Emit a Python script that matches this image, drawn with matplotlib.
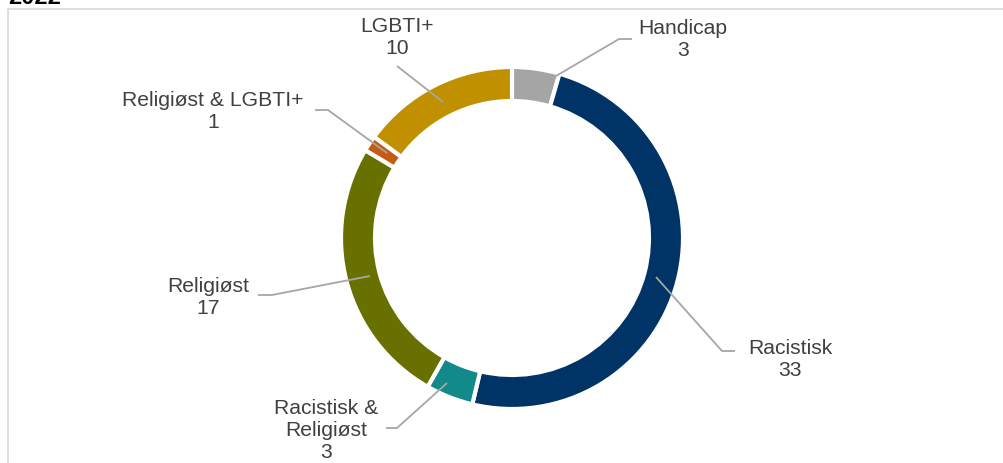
import matplotlib
matplotlib.use("Agg")
import matplotlib.pyplot as plt
from matplotlib.patches import Rectangle

categories = ["Handicap", "Racistisk", "Racistisk &\nReligiøst", "Religiøst",
              "Religiøst & LGBTI+", "LGBTI+"]
values = [3, 33, 3, 17, 1, 10]
colors = ["#A5A5A5", "#003366", "#138A8A", "#687000", "#C55A11", "#C09000"]

W, H = 1004, 464
fig = plt.figure(figsize=(W / 100, H / 100), dpi=100)
ax = fig.add_axes([0, 0, 1, 1])

def py(y):
    return H - y

cx, cy, R = 512, py(239), 171
ax.pie(values, colors=colors, startangle=90, counterclock=False, center=(cx, cy),
       radius=R, wedgeprops=dict(width=34, edgecolor="white", linewidth=3),
       frame=True)
ax.set_xlim(0, W)
ax.set_ylim(0, H)
ax.set_aspect("auto")
ax.axis("off")

# frame
ax.add_patch(Rectangle((8, py(470)), 1010, 460, fill=False, edgecolor="#D9D9D9", lw=1.2))
ax.text(8, py(-3), "2022", fontsize=17, fontweight="bold", ha="left", va="center",
        family="Liberation Sans", color="black")

# label layout: text center (px), leader polyline (px)
text_pos = [(683, 40), (790, 360), (326, 431), (208, 297), (213, 112), (397, 38)]
leaders = [
    [(632, 40), (619, 40), (556, 77)],
    [(735, 352), (722, 352), (656, 278)],
    [(386, 429), (397, 429), (447, 384)],
    [(258, 296), (272, 296), (370, 277)],
    [(315, 111), (328, 111), (387, 154)],
    [(397, 67), (443, 103)],
]
for cat, v, (tx, ty), pts in zip(categories, values, text_pos, leaders):
    ax.text(tx, py(ty), f"{cat}\n{v}", ha="center", va="center", fontsize=15.2,
            family="Liberation Sans", color="#404040", linespacing=1.2)
    xs = [p[0] for p in pts]
    ys = [py(p[1]) for p in pts]
    ax.plot(xs, ys, color="#A6A6A6", lw=1.3, solid_capstyle="butt")

fig.savefig("out.png", dpi=100)
